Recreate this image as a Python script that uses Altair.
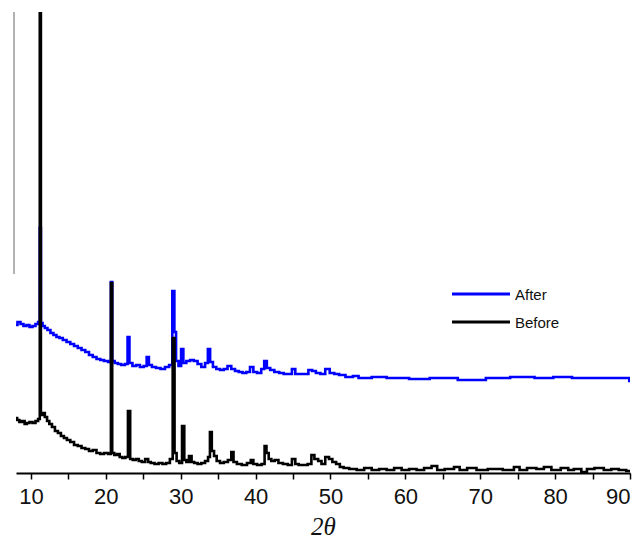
import altair as alt
import pandas as pd

# 2-theta positions and intensities (arbitrary units)
before_x = [8.0, 8.3, 8.6, 9.0, 9.3, 9.6, 10.0, 10.4, 10.8, 11.1, 11.25, 11.4, 11.7, 12.0, 12.3,
            12.6, 13.0, 13.4, 13.8, 14.2, 14.6, 15.0, 15.5, 16.0, 16.5, 17.0, 17.5, 18.0, 18.5,
            19.0, 19.5, 20.0, 20.6, 20.75, 20.95, 21.3, 21.7, 22.0, 22.4, 22.8, 23.1, 23.4, 23.8,
            24.2, 24.6, 25.0, 25.5, 25.8, 26.2, 26.8, 27.3, 27.8, 28.3, 28.8, 29.05, 29.3, 29.6,
            30.0, 30.35, 30.6, 30.9, 31.3, 31.6, 32.0, 32.5, 33.0, 33.5, 33.8, 34.0, 34.3, 34.6,
            35.0, 35.5, 36.0, 36.6, 36.9, 37.2, 37.8, 38.5, 39.2, 39.5, 39.9, 40.5, 41.1, 41.3,
            41.6, 41.9, 42.3, 42.8, 43.3, 44.0, 44.6, 45.1, 45.5, 46.0, 46.6, 47.3, 47.6, 48.1,
            48.6, 49.0, 49.6, 50.0, 50.5, 51.0, 51.5, 52.0, 53.0, 54.0, 55.0, 56.0, 57.0, 58.0,
            59.0, 60.0, 61.0, 62.0, 63.0, 64.0, 64.5, 66.0, 67.0, 67.5, 69.0, 70.0, 72.0, 74.0,
            75.0, 75.5, 77.0, 78.0, 79.0, 80.0, 81.5, 82.0, 83.0, 84.0, 84.5, 86.0, 87.0, 88.0,
            89.0, 90.0]
before_y = [55, 53, 51, 52, 49, 50, 51, 50, 52, 54, 470, 58, 60, 56, 52,
            49, 46, 42, 40, 37, 35, 33, 31, 28, 27, 25, 24, 22, 23,
            20, 19, 20, 19, 190, 20, 18, 19, 16, 15, 16, 62, 14, 13,
            14, 12, 11, 14, 11, 10, 9, 10, 9, 10, 14, 135, 20, 12,
            10, 47, 13, 11, 17, 11, 10, 9, 10, 12, 16, 41, 22, 17,
            12, 10, 11, 13, 21, 11, 9, 8, 10, 13, 9, 8, 9, 27,
            20, 14, 12, 13, 10, 9, 8, 14, 9, 8, 8, 9, 18, 14,
            12, 9, 16, 14, 11, 9, 6, 5, 4, 3, 5, 3, 4, 3,
            5, 3, 4, 3, 5, 7, 3, 4, 6, 3, 5, 3, 4, 3,
            6, 3, 5, 4, 6, 3, 5, 3, 4, 1, 4, 5, 3, 4,
            3, 2]

after_x = [8.0, 8.4, 8.8, 9.2, 9.6, 10.0, 10.4, 10.8, 11.1, 11.25, 11.4, 11.7, 12.0, 12.4, 12.8,
           13.2, 13.6, 14.0, 14.5, 15.0, 15.5, 16.0, 16.5, 17.0, 17.5, 18.0, 18.5, 19.0, 19.5,
           20.0, 20.6, 20.75, 20.95, 21.4, 21.8, 22.3, 22.8, 23.0, 23.3, 23.8, 24.3, 24.8, 25.3,
           25.6, 25.9, 26.4, 27.0, 27.6, 28.2, 28.7, 29.05, 29.25, 29.5, 29.9, 30.2, 30.5, 31.0,
           31.5, 32.0, 32.5, 33.0, 33.5, 33.75, 34.1, 34.5, 35.0, 35.5, 36.0, 36.5, 37.0, 37.5,
           38.0, 38.5, 39.0, 39.5, 39.9, 40.5, 41.0, 41.3, 41.7, 42.2, 42.8, 43.5, 44.0, 44.6,
           45.1, 45.5, 46.0, 46.8, 47.3, 47.8, 48.3, 49.0, 49.6, 50.2, 50.8, 51.5, 52.5, 53.5,
           54.0, 57.0, 58.0, 63.0, 63.5, 70.5, 71.0, 77.0, 77.5, 82.0, 82.5, 89.8, 90.0]
after_y = [148, 151, 149, 147, 148, 146, 147, 149, 151, 245, 150, 147, 145, 143, 140,
           138, 136, 135, 133, 131, 129, 127, 125, 123, 121, 118, 116, 114, 113,
           112, 111, 191, 112, 110, 109, 108, 109, 136, 110, 107, 108, 106, 107,
           116, 108, 106, 105, 104, 106, 108, 182, 141, 112, 107, 124, 110, 112,
           113, 112, 109, 106, 110, 124, 111, 106, 104, 103, 104, 107, 104, 102,
           101, 100, 101, 106, 101, 100, 104, 112, 105, 103, 101, 100, 99, 99,
           104, 99, 99, 99, 103, 102, 100, 99, 104, 100, 99, 98, 96, 97,
           95, 96, 95, 94, 95, 93, 95, 96, 95, 96, 95, 95, 92]

series_names = ["After", "Before"]
series_colors = ["#0000ff", "#000000"]
x_ticks = [10, 15, 20, 25, 30, 35, 40, 45, 50, 55, 60, 65, 70, 75, 80, 85, 90]

after_df = pd.DataFrame({"t": after_x, "i": after_y, "series": "After"})
before_df = pd.DataFrame({"t": before_x, "i": before_y, "series": "Before"})
legend_df = pd.DataFrame({"series": series_names})

color_scale = alt.Scale(domain=series_names, range=series_colors)

x_enc = alt.X("t:Q", scale=alt.Scale(domain=[8, 90], nice=False, zero=False),
              axis=alt.Axis(values=x_ticks,
                            labelExpr="datum.value % 10 == 0 ? datum.label : ''",
                            title="2θ", grid=False))
y_enc = alt.Y("i:Q", scale=alt.Scale(domain=[0, 461], nice=False), axis=None)
c_enc = alt.Color("series:N", scale=color_scale, legend=None)

after_line = alt.Chart(after_df).mark_line(strokeWidth=2.6, clip=True, interpolate="step").encode(
    x=x_enc, y=y_enc, color=c_enc, order="t:Q")
before_line = alt.Chart(before_df).mark_line(strokeWidth=2.6, clip=True, interpolate="step").encode(
    x=x_enc, y=y_enc, color=c_enc, order="t:Q")

yaxis_rule = alt.Chart(pd.DataFrame({"a": [0]})).mark_rule(color="#666", strokeWidth=1).encode(
    x=alt.value(-2), y=alt.value(0), y2=alt.value(262))

# legend drawn from the series names
leg_y = alt.Y("series:N",
              scale=alt.Scale(type="point", domain=series_names, range=[282, 310], padding=0),
              axis=None)
legend_rules = alt.Chart(legend_df).mark_rule(strokeWidth=3).encode(
    x=alt.value(436), x2=alt.value(494), y=leg_y, color=c_enc)
legend_text = alt.Chart(legend_df).mark_text(
    align="left", baseline="middle", font="Liberation Sans", fontSize=15, color="#111", dy=1
).encode(x=alt.value(499), y=leg_y, text="series:N")
legend_layer = alt.layer(legend_rules, legend_text)

chart = alt.layer(after_line, before_line, yaxis_rule, legend_layer).resolve_scale(
    y="independent"
).properties(
    width=614, height=461,
    autosize=alt.AutoSizeParams(type="none"),
    padding={"left": 16, "top": 12, "right": 14, "bottom": 65},
).configure_view(stroke=None).configure_axis(
    domainColor="#000", domainWidth=2, tickColor="#000", tickWidth=1.5, tickSize=6,
    labelFont="Liberation Sans", labelFontSize=22, labelColor="#111", labelPadding=7,
    titleFont="Liberation Serif", titleFontStyle="italic", titleFontWeight="normal",
    titleFontSize=25, titleColor="#111", titlePadding=7,
)

chart.save("out.html", embed_options={"renderer": "svg", "actions": False})
